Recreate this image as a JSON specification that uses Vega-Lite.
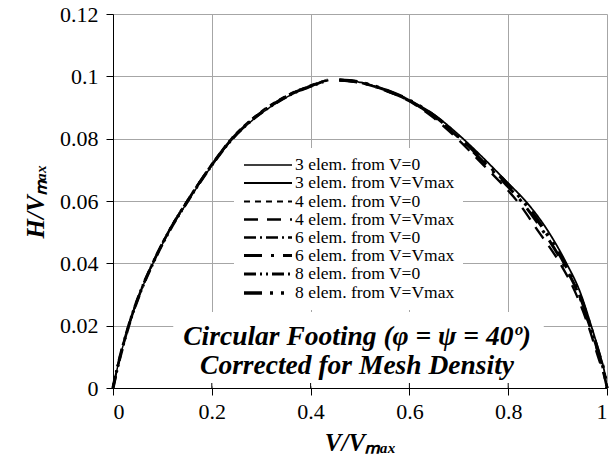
{
  "$schema": "https://vega.github.io/schema/vega-lite/v6.json",
  "width": 494,
  "height": 374,
  "autosize": {"type": "none"},
  "padding": {"left": 113, "top": 14, "right": 9, "bottom": 82},
  "background": "white",
  "config": {
    "view": {"stroke": null},
    "style": {"guide-label": {"font": "Liberation Serif"}, "guide-title": {"font": "Liberation Serif"}},
    "axis": {
      "labelFont": "Liberation Serif",
      "labelFontSize": 22,
      "labelColor": "black",
      "titleFont": "Liberation Serif",
      "titleFontSize": 25,
      "titleFontStyle": "italic",
      "titleFontWeight": "bold",
      "titleColor": "black",
      "domainColor": "black",
      "tickColor": "black",
      "tickSize": 7,
      "gridColor": "#a6a6a6",
      "gridWidth": 1
    }
  },
  "layer": [
    {
      "data": {"values": [{"x1": 0.122, "x2": 0.872, "y1": 0.0006, "y2": 0.0244}]},
      "mark": {"type": "rect", "fill": "white"},
      "encoding": {
        "x": {"field": "x1", "type": "quantitative", "scale": {"domain": [0, 1]}},
        "x2": {"field": "x2"},
        "y": {"field": "y1", "type": "quantitative", "scale": {"domain": [0, 0.12]}},
        "y2": {"field": "y2"}
      }
    },
    {
      "data": {"values": [
        {"t": 0, "y0": 0, "y1": 0.0016},
        {"t": 0.2, "y0": 0, "y1": 0.0016},
        {"t": 0.4, "y0": 0, "y1": 0.0016},
        {"t": 0.6, "y0": 0, "y1": 0.0016},
        {"t": 0.8, "y0": 0, "y1": 0.0016},
        {"t": 1, "y0": 0, "y1": 0.0016}
      ]},
      "mark": {"type": "rule", "color": "black", "strokeWidth": 1},
      "encoding": {
        "x": {"field": "t", "type": "quantitative"},
        "y": {"field": "y0", "type": "quantitative"},
        "y2": {"field": "y1"}
      }
    },
    {
      "data": {"values": [
        {"s": "3 elem. from V=0", "V": 0, "H": 0},
        {"s": "3 elem. from V=0", "V": 0.01, "H": 0.0072},
        {"s": "3 elem. from V=0", "V": 0.02, "H": 0.0134},
        {"s": "3 elem. from V=0", "V": 0.032, "H": 0.02},
        {"s": "3 elem. from V=0", "V": 0.055, "H": 0.0305},
        {"s": "3 elem. from V=0", "V": 0.081, "H": 0.04},
        {"s": "3 elem. from V=0", "V": 0.113, "H": 0.05},
        {"s": "3 elem. from V=0", "V": 0.152, "H": 0.06},
        {"s": "3 elem. from V=0", "V": 0.2, "H": 0.0713},
        {"s": "3 elem. from V=0", "V": 0.24, "H": 0.0795},
        {"s": "3 elem. from V=0", "V": 0.28, "H": 0.0856},
        {"s": "3 elem. from V=0", "V": 0.32, "H": 0.0903},
        {"s": "3 elem. from V=0", "V": 0.36, "H": 0.094},
        {"s": "3 elem. from V=0", "V": 0.4, "H": 0.0967},
        {"s": "3 elem. from V=0", "V": 0.436, "H": 0.0988},

        {"s": "4 elem. from V=0", "V": 0, "H": 0},
        {"s": "4 elem. from V=0", "V": 0.01, "H": 0.0073},
        {"s": "4 elem. from V=0", "V": 0.02, "H": 0.0135},
        {"s": "4 elem. from V=0", "V": 0.032, "H": 0.0202},
        {"s": "4 elem. from V=0", "V": 0.055, "H": 0.0307},
        {"s": "4 elem. from V=0", "V": 0.081, "H": 0.0403},
        {"s": "4 elem. from V=0", "V": 0.113, "H": 0.0504},
        {"s": "4 elem. from V=0", "V": 0.152, "H": 0.0605},
        {"s": "4 elem. from V=0", "V": 0.2, "H": 0.0718},
        {"s": "4 elem. from V=0", "V": 0.24, "H": 0.0801},
        {"s": "4 elem. from V=0", "V": 0.28, "H": 0.0862},
        {"s": "4 elem. from V=0", "V": 0.32, "H": 0.0909},
        {"s": "4 elem. from V=0", "V": 0.36, "H": 0.0945},
        {"s": "4 elem. from V=0", "V": 0.4, "H": 0.0971},
        {"s": "4 elem. from V=0", "V": 0.43, "H": 0.0987},

        {"s": "6 elem. from V=0", "V": 0, "H": 0},
        {"s": "6 elem. from V=0", "V": 0.01, "H": 0.0072},
        {"s": "6 elem. from V=0", "V": 0.02, "H": 0.0135},
        {"s": "6 elem. from V=0", "V": 0.032, "H": 0.0201},
        {"s": "6 elem. from V=0", "V": 0.055, "H": 0.0306},
        {"s": "6 elem. from V=0", "V": 0.081, "H": 0.0402},
        {"s": "6 elem. from V=0", "V": 0.113, "H": 0.0502},
        {"s": "6 elem. from V=0", "V": 0.152, "H": 0.0603},
        {"s": "6 elem. from V=0", "V": 0.2, "H": 0.0716},
        {"s": "6 elem. from V=0", "V": 0.24, "H": 0.0798},
        {"s": "6 elem. from V=0", "V": 0.28, "H": 0.0859},
        {"s": "6 elem. from V=0", "V": 0.32, "H": 0.0906},
        {"s": "6 elem. from V=0", "V": 0.36, "H": 0.0943},
        {"s": "6 elem. from V=0", "V": 0.4, "H": 0.0969},
        {"s": "6 elem. from V=0", "V": 0.434, "H": 0.0988},

        {"s": "8 elem. from V=0", "V": 0, "H": 0},
        {"s": "8 elem. from V=0", "V": 0.01, "H": 0.0072},
        {"s": "8 elem. from V=0", "V": 0.02, "H": 0.0134},
        {"s": "8 elem. from V=0", "V": 0.032, "H": 0.0201},
        {"s": "8 elem. from V=0", "V": 0.055, "H": 0.0306},
        {"s": "8 elem. from V=0", "V": 0.081, "H": 0.0401},
        {"s": "8 elem. from V=0", "V": 0.113, "H": 0.0501},
        {"s": "8 elem. from V=0", "V": 0.152, "H": 0.0602},
        {"s": "8 elem. from V=0", "V": 0.2, "H": 0.0715},
        {"s": "8 elem. from V=0", "V": 0.24, "H": 0.0797},
        {"s": "8 elem. from V=0", "V": 0.28, "H": 0.0858},
        {"s": "8 elem. from V=0", "V": 0.32, "H": 0.0905},
        {"s": "8 elem. from V=0", "V": 0.36, "H": 0.0942},
        {"s": "8 elem. from V=0", "V": 0.4, "H": 0.0968},
        {"s": "8 elem. from V=0", "V": 0.435, "H": 0.0988},

        {"s": "3 elem. from V=Vmax", "V": 0.458, "H": 0.0988},
        {"s": "3 elem. from V=Vmax", "V": 0.48, "H": 0.0987},
        {"s": "3 elem. from V=Vmax", "V": 0.5, "H": 0.0981},
        {"s": "3 elem. from V=Vmax", "V": 0.55, "H": 0.0958},
        {"s": "3 elem. from V=Vmax", "V": 0.6, "H": 0.0924},
        {"s": "3 elem. from V=Vmax", "V": 0.65, "H": 0.0877},
        {"s": "3 elem. from V=Vmax", "V": 0.7, "H": 0.0812},
        {"s": "3 elem. from V=Vmax", "V": 0.745, "H": 0.0745},
        {"s": "3 elem. from V=Vmax", "V": 0.8, "H": 0.0657},
        {"s": "3 elem. from V=Vmax", "V": 0.835, "H": 0.06},
        {"s": "3 elem. from V=Vmax", "V": 0.88, "H": 0.0505},
        {"s": "3 elem. from V=Vmax", "V": 0.918, "H": 0.04},
        {"s": "3 elem. from V=Vmax", "V": 0.945, "H": 0.031},
        {"s": "3 elem. from V=Vmax", "V": 0.968, "H": 0.02},
        {"s": "3 elem. from V=Vmax", "V": 0.985, "H": 0.011},
        {"s": "3 elem. from V=Vmax", "V": 0.995, "H": 0.005},
        {"s": "3 elem. from V=Vmax", "V": 1.0, "H": 0},

        {"s": "4 elem. from V=Vmax", "V": 0.458, "H": 0.0988},
        {"s": "4 elem. from V=Vmax", "V": 0.5, "H": 0.098},
        {"s": "4 elem. from V=Vmax", "V": 0.55, "H": 0.0955},
        {"s": "4 elem. from V=Vmax", "V": 0.6, "H": 0.092},
        {"s": "4 elem. from V=Vmax", "V": 0.65, "H": 0.0866},
        {"s": "4 elem. from V=Vmax", "V": 0.7, "H": 0.0795},
        {"s": "4 elem. from V=Vmax", "V": 0.75, "H": 0.0715},
        {"s": "4 elem. from V=Vmax", "V": 0.786, "H": 0.0657},
        {"s": "4 elem. from V=Vmax", "V": 0.818, "H": 0.06},
        {"s": "4 elem. from V=Vmax", "V": 0.86, "H": 0.0505},
        {"s": "4 elem. from V=Vmax", "V": 0.905, "H": 0.04},
        {"s": "4 elem. from V=Vmax", "V": 0.935, "H": 0.031},
        {"s": "4 elem. from V=Vmax", "V": 0.962, "H": 0.02},
        {"s": "4 elem. from V=Vmax", "V": 0.982, "H": 0.01},
        {"s": "4 elem. from V=Vmax", "V": 0.994, "H": 0.004},
        {"s": "4 elem. from V=Vmax", "V": 1.0, "H": 0},

        {"s": "6 elem. from V=Vmax", "V": 0.458, "H": 0.0988},
        {"s": "6 elem. from V=Vmax", "V": 0.5, "H": 0.0981},
        {"s": "6 elem. from V=Vmax", "V": 0.55, "H": 0.0957},
        {"s": "6 elem. from V=Vmax", "V": 0.6, "H": 0.0922},
        {"s": "6 elem. from V=Vmax", "V": 0.65, "H": 0.0871},
        {"s": "6 elem. from V=Vmax", "V": 0.7, "H": 0.0803},
        {"s": "6 elem. from V=Vmax", "V": 0.75, "H": 0.0725},
        {"s": "6 elem. from V=Vmax", "V": 0.793, "H": 0.0657},
        {"s": "6 elem. from V=Vmax", "V": 0.826, "H": 0.06},
        {"s": "6 elem. from V=Vmax", "V": 0.87, "H": 0.0505},
        {"s": "6 elem. from V=Vmax", "V": 0.911, "H": 0.04},
        {"s": "6 elem. from V=Vmax", "V": 0.94, "H": 0.031},
        {"s": "6 elem. from V=Vmax", "V": 0.965, "H": 0.02},
        {"s": "6 elem. from V=Vmax", "V": 0.984, "H": 0.0105},
        {"s": "6 elem. from V=Vmax", "V": 0.995, "H": 0.0045},
        {"s": "6 elem. from V=Vmax", "V": 1.0, "H": 0},

        {"s": "8 elem. from V=Vmax", "V": 0.458, "H": 0.0988},
        {"s": "8 elem. from V=Vmax", "V": 0.5, "H": 0.0981},
        {"s": "8 elem. from V=Vmax", "V": 0.55, "H": 0.0957},
        {"s": "8 elem. from V=Vmax", "V": 0.6, "H": 0.0923},
        {"s": "8 elem. from V=Vmax", "V": 0.65, "H": 0.0874},
        {"s": "8 elem. from V=Vmax", "V": 0.7, "H": 0.0807},
        {"s": "8 elem. from V=Vmax", "V": 0.75, "H": 0.073},
        {"s": "8 elem. from V=Vmax", "V": 0.797, "H": 0.0657},
        {"s": "8 elem. from V=Vmax", "V": 0.83, "H": 0.06},
        {"s": "8 elem. from V=Vmax", "V": 0.874, "H": 0.0505},
        {"s": "8 elem. from V=Vmax", "V": 0.914, "H": 0.04},
        {"s": "8 elem. from V=Vmax", "V": 0.942, "H": 0.031},
        {"s": "8 elem. from V=Vmax", "V": 0.966, "H": 0.02},
        {"s": "8 elem. from V=Vmax", "V": 0.984, "H": 0.0108},
        {"s": "8 elem. from V=Vmax", "V": 0.995, "H": 0.0047},
        {"s": "8 elem. from V=Vmax", "V": 1.0, "H": 0}
      ]},
      "mark": {"type": "line", "color": "black", "interpolate": "monotone", "strokeCap": "butt"},
      "encoding": {
        "x": {
          "field": "V", "type": "quantitative",
          "scale": {"domain": [0, 1], "nice": false},
          "axis": {"values": [0, 0.2, 0.4, 0.6, 0.8, 1], "format": "~g", "title": "V/Vₘₐₓ", "labelFont": "Liberation Serif", "labelFontSize": 22, "labelPadding": 6, "titlePadding": 8}
        },
        "y": {
          "field": "H", "type": "quantitative",
          "scale": {"domain": [0, 0.12], "nice": false},
          "axis": {"values": [0, 0.02, 0.04, 0.06, 0.08, 0.1, 0.12], "format": "~g", "title": "H/Vₘₐₓ", "labelFont": "Liberation Serif", "labelFontSize": 22, "labelPadding": 8, "titlePadding": 11}
        },
        "strokeDash": {
          "field": "s", "type": "nominal",
          "scale": {
            "domain": ["3 elem. from V=0", "3 elem. from V=Vmax", "4 elem. from V=0", "4 elem. from V=Vmax", "6 elem. from V=0", "6 elem. from V=Vmax", "8 elem. from V=0", "8 elem. from V=Vmax"],
            "range": [[1, 0], [1, 0], [6, 5], [14, 9], [12, 4, 2, 4], [18, 9, 3, 9], [12, 4, 2, 4, 2, 4], [18, 8, 3, 8, 3, 8]]
          },
          "legend": {"orient": "none", "legendX": 121, "legendY": 134, "title": null, "symbolType": "M-1,0H5", "symbolSize": 256, "labelOffset": 33, "labelFont": "Liberation Serif", "labelFontSize": 17.5, "labelLimit": 400, "labelColor": "black", "fillColor": "white", "padding": 8, "rowPadding": -0.4, "symbolStrokeColor": "black"}
        },
        "strokeWidth": {
          "field": "s", "type": "nominal",
          "scale": {
            "domain": ["3 elem. from V=0", "3 elem. from V=Vmax", "4 elem. from V=0", "4 elem. from V=Vmax", "6 elem. from V=0", "6 elem. from V=Vmax", "8 elem. from V=0", "8 elem. from V=Vmax"],
            "range": [1.5, 3.5, 1.5, 3.5, 1.5, 3.5, 1.5, 3.5]
          },
          "legend": {"orient": "none", "legendX": 121, "legendY": 134, "title": null, "symbolType": "M-1,0H5", "symbolSize": 256, "labelOffset": 33, "labelFont": "Liberation Serif", "labelFontSize": 17.5, "labelLimit": 400, "labelColor": "black", "fillColor": "white", "padding": 8, "rowPadding": -0.4, "symbolStrokeColor": "black"}
        }
      }
    },
    {
      "data": {"values": [
        {"V": 0.494, "H": 0.0164, "label": "Circular Footing (φ = ψ = 40º)"},
        {"V": 0.494, "H": 0.0071, "label": "Corrected for Mesh Density"}
      ]},
      "mark": {"type": "text", "font": "Liberation Serif", "fontSize": 27.5, "fontStyle": "italic", "fontWeight": "bold", "color": "black", "align": "center", "baseline": "middle"},
      "encoding": {
        "x": {"field": "V", "type": "quantitative"},
        "y": {"field": "H", "type": "quantitative"},
        "text": {"field": "label"}
      }
    }
  ]
}
